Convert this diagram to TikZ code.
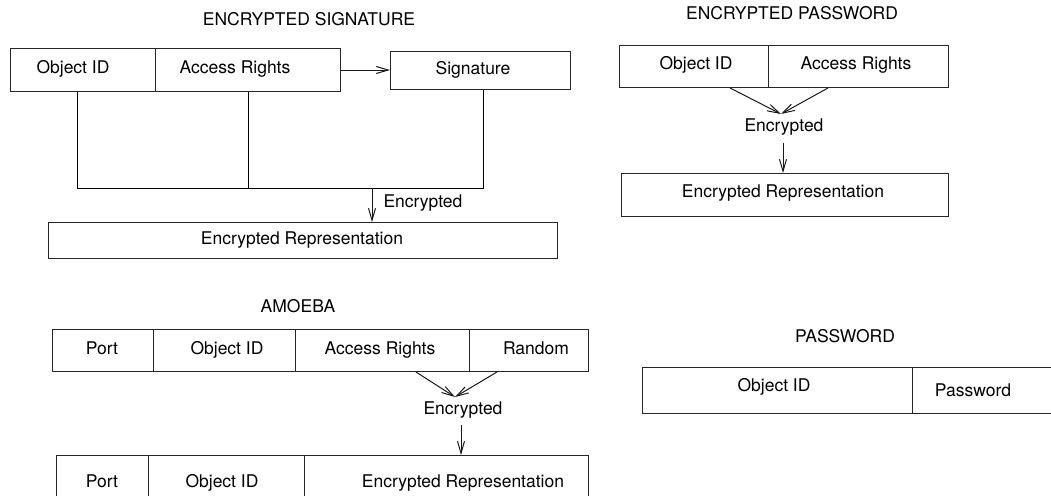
\documentclass[tikz,border=0pt]{standalone}
\usepackage{fontspec}
\setmainfont{TeX Gyre Heros}
\usetikzlibrary{arrows.meta, positioning}

\begin{document}
\begin{tikzpicture}[x=1pt, y=-1pt, line width=1pt,
  every node/.style={font=\fontsize{17.5}{21}\selectfont, inner sep=2pt,
    text height=12.6pt, text depth=3.7pt},
  cell/.style={draw=black!85, anchor=north west, inner sep=0pt,
    text height=, text depth=},
  barb/.style={-{Straight Barb[length=12pt, width=7pt]}, black!90}]
\useasboundingbox (0,0) rectangle (1051,495);
\clip (0,0) rectangle (1051,495);

% encrypted signature
\node (sigttl) at (309,21) {ENCRYPTED SIGNATURE};
\foreach \l/\r/\c/\t [count=\i] in {10/155/73/Object ID, 155/340/235/Access Rights} {
  \node [cell, minimum width=\r-\l, minimum height=43] (sig\i) at (\l,48) {};
  \node (sigtxt\i) at (\c,69) {\t};
}
\node [cell, minimum width=180, minimum height=38] (sigbox) at (390,51) {};
\node (sigboxtxt) at (473,70) {Signature};
\draw [barb] (sig2.east) -- (sig2.east -| sigbox.west);
\coordinate (sigjl) at (77,188);
\coordinate (sigjm) at (248,188);
\coordinate (sigjr) at (483,188);
\coordinate (sigjc) at (372,188);
\draw (sig1.south -| sigjl) -- (sigjl) -- (sigjr) -- (sigbox.south -| sigjr);
\draw (sig2.south -| sigjm) -- (sigjm);
\node [cell, minimum width=509, minimum height=36] (sigrep) at (48,222) {};
\node (sigreptxt) at (302,240) {Encrypted Representation};
\draw [barb] (sigjc) -- (sigjc |- sigrep.north);
\node [anchor=west] (siglbl) at (381,203) {Encrypted};

% encrypted password
\node (pwttl) at (792,15) {ENCRYPTED PASSWORD};
\foreach \l/\r/\c/\t [count=\i] in {619/768/696/Object ID, 768/948/856/Access Rights} {
  \node [cell, minimum width=\r-\l, minimum height=42] (pw\i) at (\l,45) {};
  \node (pwtxt\i) at (\c,65) {\t};
}
\coordinate (pwa) at (730,87);
\coordinate (pwb) at (828,87);
\coordinate (pwtip) at (781,114);
\node (pwlbl) at (784,127) {Encrypted};
\draw [barb] (pw1.south -| pwa) -- (pwtip);
\draw [barb] (pw2.south -| pwb) -- (pwtip);
\node [cell, minimum width=327, minimum height=43] (pwrep) at (621,173) {};
\node (pwreptxt) at (783,193) {Encrypted Representation};
\coordinate (pwdown) at (783,143);
\draw [barb] (pwdown) -- (pwdown |- pwrep.north);

% amoeba
\node (amttl) at (298,308) {AMOEBA};
\foreach \l/\r/\c/\t [count=\i] in {52/153/102/Port, 153/295/227/Object ID, 295/469/380/Access Rights, 469/588/536/Random} {
  \node [cell, minimum width=\r-\l, minimum height=42] (am\i) at (\l,329) {};
  \node (amtxt\i) at (\c,350) {\t};
}
\coordinate (ama) at (416,371);
\coordinate (amb) at (497,371);
\coordinate (amtip) at (455,397);
\node (amlbl) at (463,410) {Encrypted};
\draw [barb] (am3.south -| ama) -- (amtip);
\draw [barb] (am4.south -| amb) -- (amtip);
\foreach \l/\r/\c/\t [count=\i] in {56/148/102/Port, 148/304/222/Object ID, 304/588/463/Encrypted Representation} {
  \node [cell, minimum width=\r-\l, minimum height=56] (amrep\i) at (\l,455) {};
  \node (amreptxt\i) at (\c,483) {\t};
}
\coordinate (amdown) at (461,425);
\draw [barb] (amdown) -- (amdown |- amrep3.north);

% password
\node (pwdttl) at (845,338) {PASSWORD};
\node [cell, minimum width=270, minimum height=46] (pwd1) at (642,367) {};
\node [cell, minimum width=158, minimum height=46] (pwd2) at (912,367) {};
\node (pwdtxt1) at (774,387) {Object ID};
\node (pwdtxt2) at (973,392) {Password};
\end{tikzpicture}
\end{document}
